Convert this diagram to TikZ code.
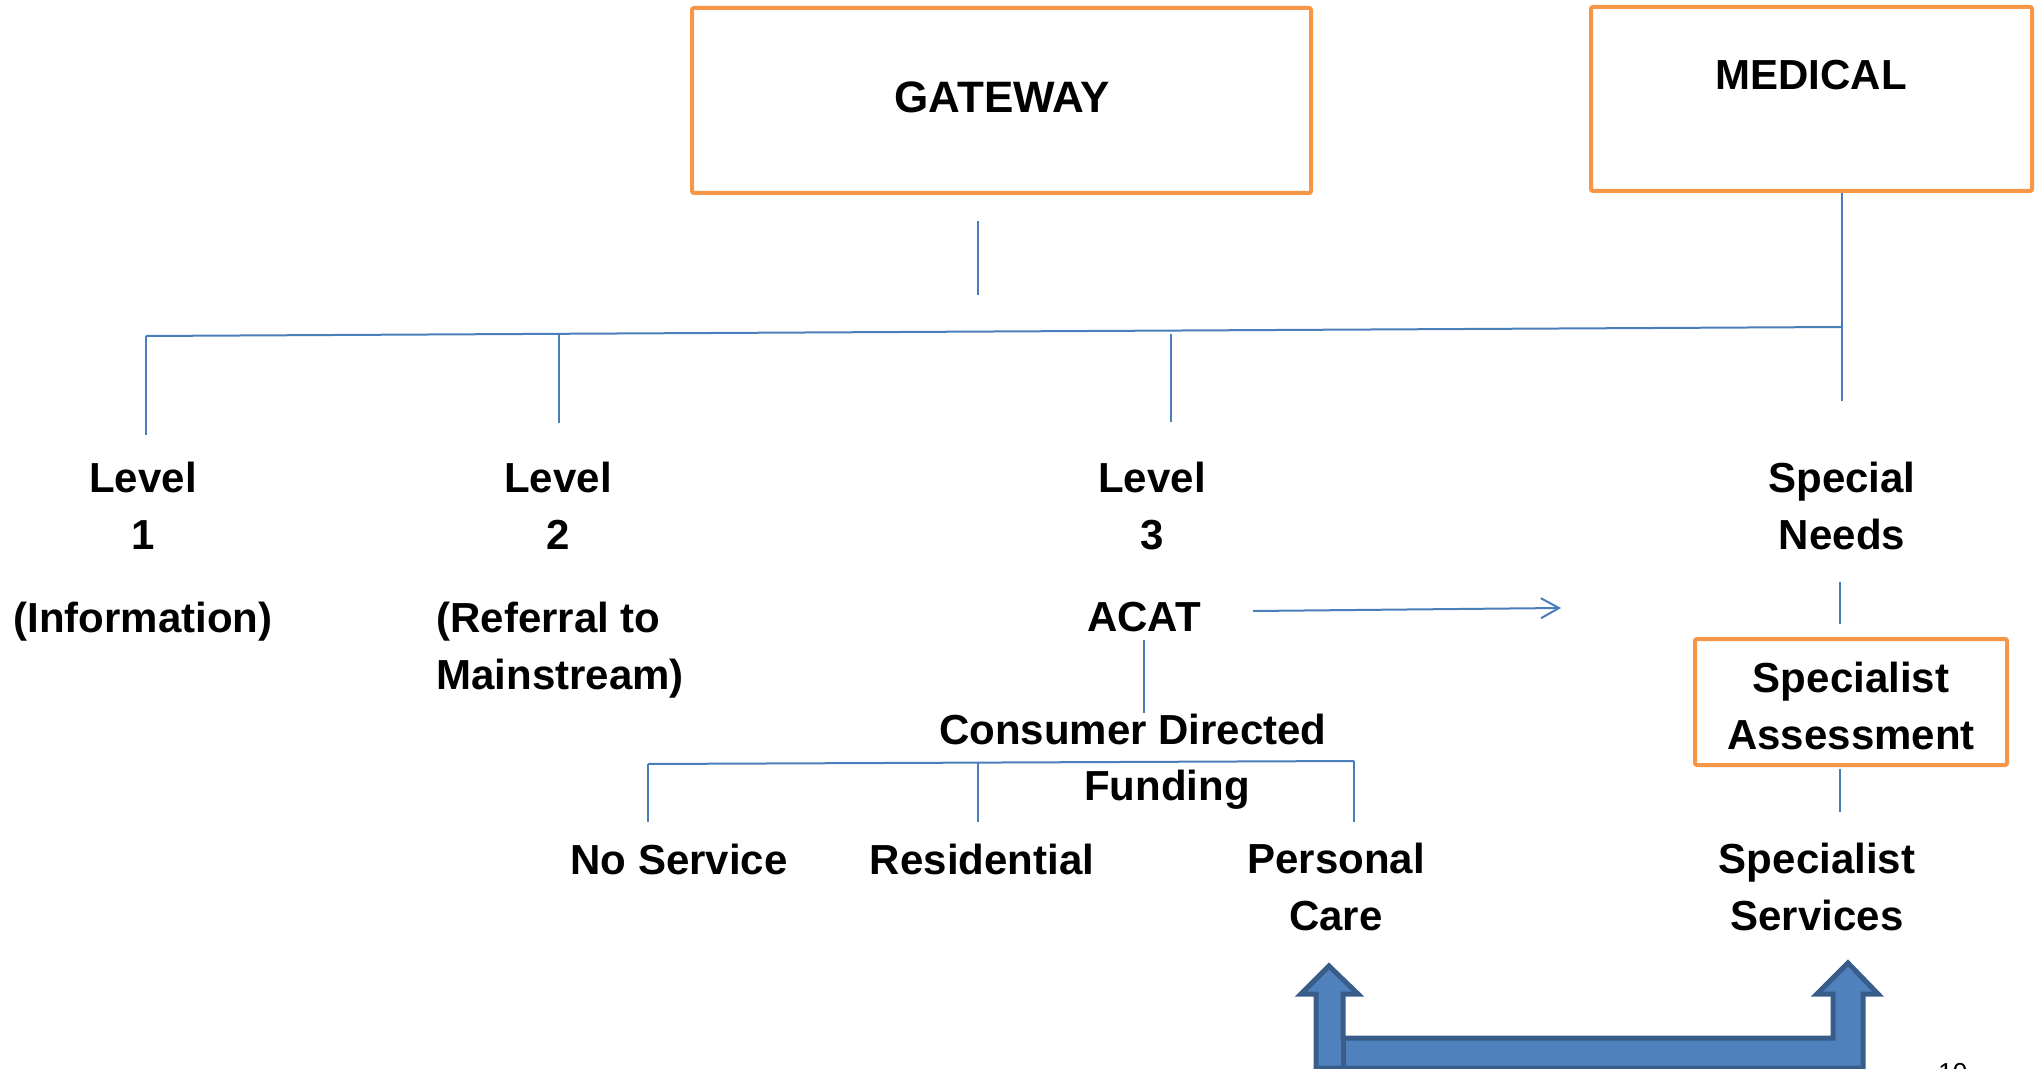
\documentclass[tikz,border=0pt]{standalone}
\usepackage{fontspec}
\setmainfont{Liberation Sans}
\usetikzlibrary{arrows.meta}
\definecolor{boxorange}{HTML}{F79646}
\definecolor{linkblue}{HTML}{4A7EBB}
\definecolor{arrowfill}{HTML}{4F81BD}
\definecolor{arrowedge}{HTML}{385D8A}

\begin{document}
\begin{tikzpicture}[x=0.5pt,y=-0.5pt,
  lbl/.style={font=\fontsize{21}{28.6}\selectfont\bfseries, align=center, inner sep=0pt},
  obox/.style={draw=boxorange, line width=2pt, rounded corners=1pt, inner sep=0pt},
  link/.style={draw=linkblue, line width=1pt},
  bigarrow/.style={fill=arrowfill, draw=arrowedge, line width=2.5pt, line join=miter}]
\useasboundingbox (0,0) rectangle (2040,1069);

% top boxes
\node[obox, minimum width=309.5pt, minimum height=92.5pt] (gw) at (1001.5,100.5) {};
\node[lbl, font=\fontsize{22}{28.6}\selectfont\bfseries] (gwt) at (1002,97) {GATEWAY};
\node[obox, minimum width=220.5pt, minimum height=92pt] (med) at (1811.5,99) {};
\node[lbl] (medt) at (1811,75) {MEDICAL};

% level labels
\node[lbl] (l1) at (143,506) {Level\\1};
\node[lbl] (info) at (143,622) {(Information)};
\node[lbl] (l2) at (558,506) {Level\\2};
\node[lbl, align=left, anchor=west] (ref) at (436,650) {(Referral to\\Mainstream)};
\node[lbl] (l3) at (1152,506) {Level\\3};
\node[lbl] (acat) at (1144,617) {ACAT};
\node[lbl] (sn) at (1842,506) {Special\\Needs};
\node[obox, minimum width=156pt, minimum height=63pt] (sa) at (1851,702) {};
\node[lbl] (sat) at (1851,706) {Specialist\\Assessment};
\node[lbl] (ss) at (1817,887) {Specialist\\Services};

% funding branch labels
\node[lbl] (cd) at (1133,729) {Consumer Directed};
\node[lbl] (fd) at (1167,790) {Funding};
\node[lbl] (nos) at (679,859) {No Service};
\node[lbl] (res) at (982,859) {Residential};
\node[lbl] (pc) at (1336,887) {Personal\\Care};

% page number, mostly below the page edge
\node[font=\fontsize{13}{15}\selectfont, anchor=north west, inner sep=0pt] (pg) at (1938,1063) {10};

% junction points of the tree lines
\coordinate (gwa) at (978,221);
\coordinate (gwb) at (978,295);
\coordinate (meda) at (1842,193);
\coordinate (medb) at (1842,401);
\coordinate (hl) at (146,336);
\coordinate (hr) at (1842,327);
\coordinate (d1a) at (146,336);  \coordinate (d1b) at (146,435);
\coordinate (d2a) at (559,334);  \coordinate (d2b) at (559,423);
\coordinate (d3a) at (1171,334); \coordinate (d3b) at (1171,422);
\coordinate (sna) at (1840,582); \coordinate (snb) at (1840,624);
\coordinate (saa) at (1840,769); \coordinate (sab) at (1840,812);
\coordinate (aa) at (1253,611);  \coordinate (ab) at (1561,608);
\coordinate (ca) at (1144,640);  \coordinate (cb) at (1144,713);
\coordinate (fl) at (648,764);   \coordinate (fr) at (1354,761);
\coordinate (f1b) at (648,822);
\coordinate (f2a) at (978,763);  \coordinate (f2b) at (978,822);
\coordinate (f3b) at (1354,822);

\draw[link] (gwa) -- (gwb);
\draw[link] (meda) -- (medb);
\draw[link] (hl) -- (hr);
\draw[link] (d1a) -- (d1b);
\draw[link] (d2a) -- (d2b);
\draw[link] (d3a) -- (d3b);
\draw[link] (sna) -- (snb);
\draw[link] (saa) -- (sab);
\draw[link, -{Straight Barb[length=9pt,width=10pt,line width=1pt]}] (aa) -- (ab);
\draw[link] (ca) -- (cb);
\draw[link] (fl) -- (fr);
\draw[link] (fl) -- (f1b);
\draw[link] (f2a) -- (f2b);
\draw[link] (fr) -- (f3b);

% block arrow joining personal care and specialist services
\draw[bigarrow] (1316,1068) -- (1316,994) -- (1301,994) -- (1329,966) -- (1358,994)
  -- (1343,994) -- (1343,1038) -- (1833,1038) -- (1833,994) -- (1817,994)
  -- (1848,963) -- (1878,994) -- (1863,994) -- (1863,1068) -- cycle;
\draw[draw=arrowedge, line width=2.5pt] (1343,1038) -- (1343,1068);
\end{tikzpicture}
\end{document}
